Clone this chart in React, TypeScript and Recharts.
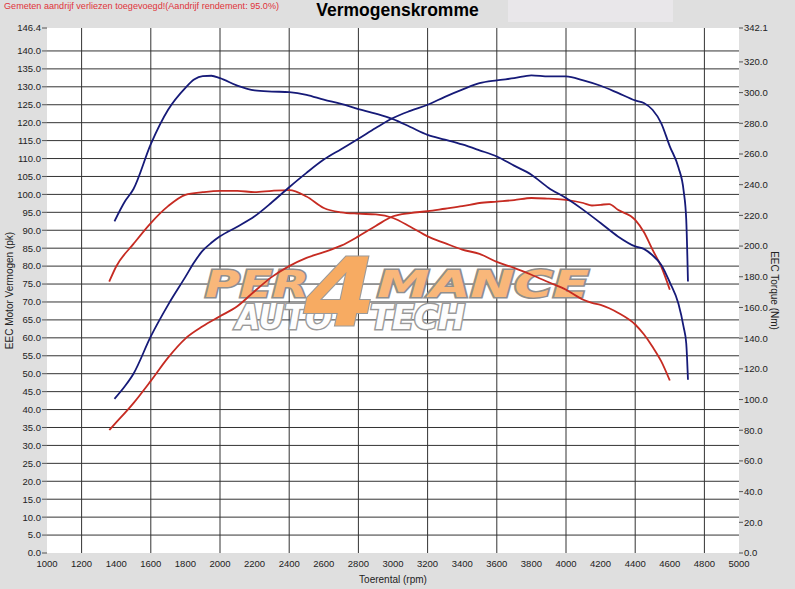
import { LineChart, Line, XAxis, YAxis, CartesianGrid, Customized } from "recharts";

// toerental-punten (rpm) per meting
const blueRpm = [
  1390, 1450, 1500, 1600, 1700, 1800, 1850, 1900, 1950, 2000, 2100, 2200, 2300, 2400, 2500,
  2600, 2700, 2800, 2900, 3000, 3100, 3200, 3300, 3400, 3500, 3600, 3700, 3800, 3900, 4000,
  4100, 4200, 4300, 4400, 4450, 4500, 4550, 4600, 4650, 4680, 4695, 4705,
];
const bluePower = [
  43, 46.5, 50, 60.4, 69.2, 77, 81, 84.3, 86.5, 88.3, 91, 93.9, 97.8, 102, 106,
  109.7, 112.6, 115.5, 118.5, 121.3, 123.3, 125, 127.2, 129.2, 131, 131.8, 132.4, 133.2, 132.9, 132.9,
  131.8, 130.3, 128.3, 126.2, 125.5, 123.6, 119.9, 113.4, 107.5, 101, 93, 75.7,
];
const blueTorque = [
  216.1, 229, 237.2, 266.4, 288.8, 303.1, 308.5, 310.8, 311, 309.4, 304.5, 301.4, 300.7, 300.3, 298.6,
  295.4, 292.6, 289.3, 286.3, 282.7, 277.6, 272.5, 269.4, 266.2, 262.4, 258.4, 252.4, 246.5, 237.9, 231.3,
  223.6, 215, 206.3, 199.8, 198.2, 194, 187.9, 176.4, 162.4, 147.2, 136.7, 112.9,
];

const redRpm = [
  1360, 1400, 1500, 1600, 1700, 1800, 1900, 2000, 2100, 2200, 2300, 2400, 2500, 2600, 2700,
  2800, 2900, 3000, 3100, 3200, 3300, 3400, 3500, 3600, 3700, 3800, 3900, 4000, 4100, 4150,
  4200, 4250, 4300, 4400, 4450, 4500, 4550, 4600,
];
const redPower = [
  34.3, 36.4, 41.8, 48, 54.5, 59.8, 63.2, 66, 68.8, 73, 77, 80, 82.3, 83.9, 85.7,
  88.3, 91.2, 93.9, 94.8, 95.3, 96, 96.7, 97.6, 98, 98.4, 99, 98.8, 98.5, 97.6, 96.9,
  97.1, 97.3, 95.7, 92.9, 89.5, 84.6, 79.9, 73.4,
];
const redTorque = [
  176.9, 186.7, 201.4, 215, 226, 233.4, 235.1, 236, 236, 235.1, 236, 236.5, 232.3, 224.8, 222,
  221.1, 220.6, 218.3, 212.6, 206.3, 201.9, 197.7, 194.9, 189.7, 185.8, 181.3, 176.4, 171.5, 165, 163,
  161.7, 159.5, 156.6, 148.9, 142.5, 134.4, 125, 112.4,
];

const rpmTicks = [1000, 1200, 1400, 1600, 1800, 2000, 2200, 2400, 2600, 2800, 3000, 3200, 3400, 3600, 3800, 4000, 4200, 4400, 4600, 4800, 5000];
const pkTicks = [0, 5, 10, 15, 20, 25, 30, 35, 40, 45, 50, 55, 60, 65, 70, 75, 80, 85, 90, 95, 100, 105, 110, 115, 120, 125, 130, 135, 140, 146.4];
const nmTicks = [0, 20, 40, 60, 80, 100, 120, 140, 160, 180, 200, 220, 240, 260, 280, 300, 320, 342.1];

const blueRows = blueRpm.map((rpm, i) => ({ rpm, power: bluePower[i], torque: blueTorque[i] }));
const redRows = redRpm.map((rpm, i) => ({ rpm, power: redPower[i], torque: redTorque[i] }));

const BLUE = "#161a78";
const RED = "#c62b22";
const tickStyle = { fontSize: 9.5, fill: "#222", fontFamily: "Liberation Sans, Arial, sans-serif" };

// logo-watermerk, onder de lijnen
const Watermark = () => (
  <g style={{ fontFamily: "DejaVu Sans, sans-serif", fontWeight: 900, fontStyle: "italic" }}>
    <text x={236} y={329} fontSize={33} textLength={96} lengthAdjust="spacingAndGlyphs"
      fill="#fdfdfd" stroke="#9a9a9a" strokeWidth={3} paintOrder="stroke">AUTO</text>
    <text x={370} y={329} fontSize={33} textLength={95} lengthAdjust="spacingAndGlyphs"
      fill="#fdfdfd" stroke="#9a9a9a" strokeWidth={3} paintOrder="stroke">TECH</text>
    <text x={205} y={297} fontSize={38} textLength={104} lengthAdjust="spacingAndGlyphs"
      fill="#f9b77a" stroke="#8f8f8f" strokeWidth={3} paintOrder="stroke">PER</text>
    <text x={377} y={297} fontSize={38} textLength={212} lengthAdjust="spacingAndGlyphs"
      fill="#f9b77a" stroke="#8f8f8f" strokeWidth={3} paintOrder="stroke">MANCE</text>
    <text x={304} y={326} fontSize={95} textLength={72} lengthAdjust="spacingAndGlyphs"
      fill="#f7ab62" stroke="#9a9a9a" strokeWidth={2} paintOrder="stroke">4</text>
  </g>
);

export default function App() {
  return (
    <div
      style={{
        position: "absolute",
        top: 0,
        left: 0,
        width: 795,
        height: 589,
        background: "#dfdfdf",
        fontFamily: "Liberation Sans, Arial, sans-serif",
      }}
    >
      <div style={{ position: "absolute", left: 508, top: 0, width: 165, height: 22, background: "#e9e7ea" }} />
      <div style={{ position: "absolute", left: 4, top: 1, fontSize: 9.1, color: "#e0343a", whiteSpace: "nowrap" }}>
        Gemeten aandrijf verliezen toegevoegd!(Aandrijf rendement: 95.0%)
      </div>
      <div
        style={{
          position: "absolute",
          left: 0,
          width: 795,
          top: 0,
          textAlign: "center",
          fontSize: 17.5,
          fontWeight: "bold",
          color: "#000",
          lineHeight: "21px",
        }}
      >
        Vermogenskromme
      </div>
      <div style={{ position: "absolute", top: 0, left: 0 }}>
        <LineChart width={795} height={589} margin={{ top: 28, right: 0, bottom: 0, left: 0 }}>
          <CartesianGrid
            yAxisId="pk"
            fill="#ffffff"
            stroke="#333333"
            strokeWidth={1}
            horizontalValues={pkTicks.slice(1, -1)}
            verticalValues={rpmTicks.slice(1, -1)}
          />
          <XAxis
            dataKey="rpm"
            type="number"
            domain={[1000, 5000]}
            ticks={rpmTicks}
            allowDataOverflow
            height={36}
            axisLine={false}
            tickLine={false}
            tickSize={6}
            tickMargin={1}
            tick={tickStyle}
            label={{ value: "Toerental (rpm)", position: "insideBottom", offset: 6, fontSize: 10, fill: "#222" }}
          />
          <YAxis
            yAxisId="pk"
            orientation="left"
            width={47}
            domain={[0, 146.4]}
            ticks={pkTicks}
            interval={0}
            allowDataOverflow
            axisLine={false}
            tickSize={5}
            tickMargin={1}
            tickLine={{ stroke: "#555" }}
            tickFormatter={(v: number) => v.toFixed(1)}
            tick={tickStyle}
            label={{ value: "EEC Motor Vermogen (pk)", angle: -90, position: "insideLeft", offset: 9, fontSize: 10, fill: "#222", style: { textAnchor: "middle" } }}
          />
          <YAxis
            yAxisId="nm"
            orientation="right"
            width={56}
            domain={[0, 342.1]}
            ticks={nmTicks}
            interval={0}
            allowDataOverflow
            axisLine={false}
            tickSize={4}
            tickMargin={1}
            tickLine={{ stroke: "#555" }}
            tickFormatter={(v: number) => v.toFixed(1)}
            tick={tickStyle}
            label={{ value: "EEC Torque (Nm)", angle: 90, position: "insideRight", offset: 20, fontSize: 10, fill: "#222", style: { textAnchor: "middle" } }}
          />
          <Customized component={Watermark} />
          <Line data={redRows} yAxisId="pk" dataKey="power" type="monotone" stroke={RED} strokeWidth={1.8} dot={false} isAnimationActive={false} />
          <Line data={redRows} yAxisId="nm" dataKey="torque" type="monotone" stroke={RED} strokeWidth={1.8} dot={false} isAnimationActive={false} />
          <Line data={blueRows} yAxisId="pk" dataKey="power" type="monotone" stroke={BLUE} strokeWidth={1.8} dot={false} isAnimationActive={false} />
          <Line data={blueRows} yAxisId="nm" dataKey="torque" type="monotone" stroke={BLUE} strokeWidth={1.8} dot={false} isAnimationActive={false} />
        </LineChart>
      </div>
    </div>
  );
}
